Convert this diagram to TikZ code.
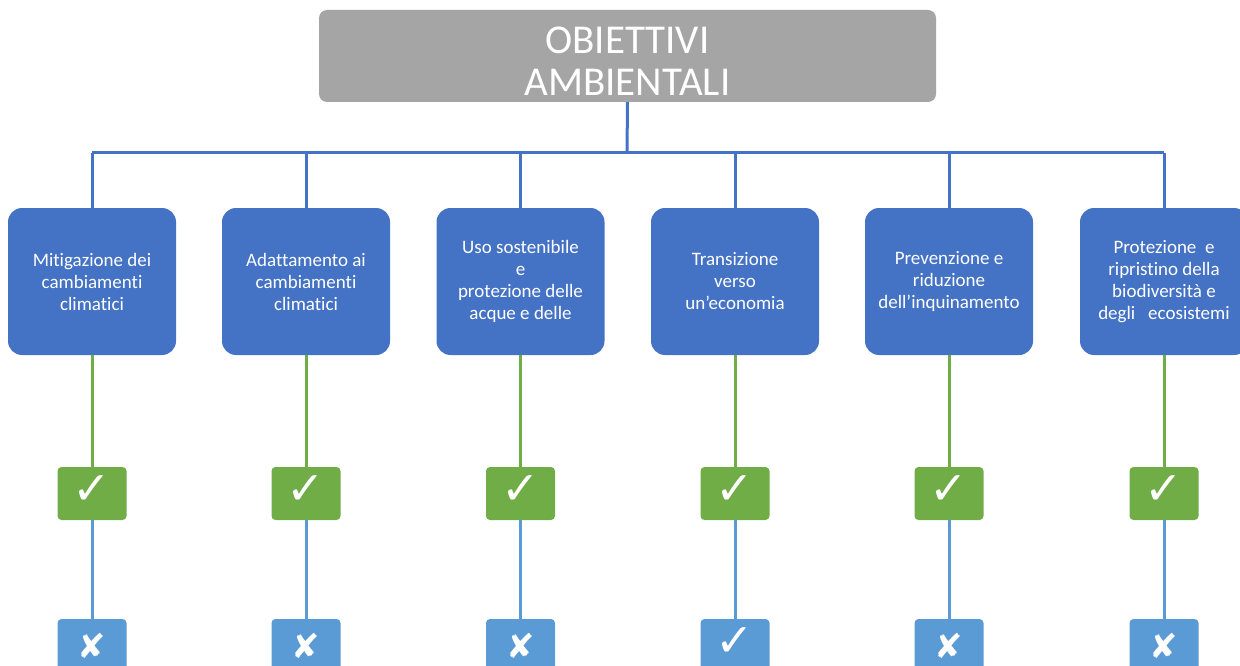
\documentclass[tikz,border=0pt]{standalone}
\usepackage{fontspec}
\setmainfont[Ligatures={NoCommon}]{Carlito}
\newfontfamily\symfont{DejaVu Sans}
\definecolor{topgray}{HTML}{A5A5A5}
\definecolor{objblue}{HTML}{4472C4}
\definecolor{okgreen}{HTML}{70AD47}
\definecolor{lightblue}{HTML}{5B9BD5}
\tikzset{
  topbox/.style={fill=topgray, rounded corners=8pt, minimum width=617pt, minimum height=92pt,
    inner sep=0pt},
  toptext/.style={text=white, align=center, inner sep=0pt, font=\fontsize{41}{42}\selectfont},
  objbox/.style={fill=objblue, rounded corners=14pt, minimum width=168pt, minimum height=147pt,
    text=white, align=center, inner sep=0pt, font=\fontsize{19}{22}\selectfont},
  greenbox/.style={fill=okgreen, rounded corners=4pt, minimum width=69pt, minimum height=53pt,
    text=white, inner sep=0pt},
  lbbox/.style={fill=lightblue, rounded corners=4pt, minimum width=69pt, minimum height=53pt,
    text=white, inner sep=0pt},
  bluelink/.style={draw=objblue, line width=3pt},
  greenlink/.style={draw=okgreen, line width=3pt},
  lblink/.style={draw=lightblue, line width=3pt},
}
\newcommand{\ckmark}{\raisebox{6pt}{\symfont\fontsize{46}{46}\selectfont ✓}}
\newcommand{\xmark}{\symfont\fontsize{34}{34}\selectfont ✘}
\begin{document}
\begin{tikzpicture}[x=1pt,y=-1pt]
\useasboundingbox (0,0) rectangle (1240,666);
\clip (0,0) rectangle (1240,666);
\node[topbox] (top) at (627.5,56) {};
\node[toptext] (title) at (627.5,61) {OBIETTIVI\\AMBIENTALI};
\coordinate (bar) at (627,153);

\node[objbox] (o1) at (92,281.5) {Mitigazione dei\\cambiamenti\\climatici};
\node[objbox] (o2) at (306,281.5) {Adattamento ai\\cambiamenti\\climatici};
\node[objbox] (o3) at (520.5,281.5) {Uso sostenibile\\e\\protezione delle\\acque e delle};
\node[objbox] (o4) at (735,281.5) {Transizione\\verso\\un’economia};
\node[objbox] (o5) at (949,281.5) {Prevenzione e\\riduzione\\dell’inquinamento};
\node[objbox] (o6) at (1164,281.5) {Protezione\ \ e\\ripristino della\\biodiversità e\\degli\ \ \ ecosistemi};

\foreach \i/\x in {1/92,2/306,3/520.5,4/735,5/949,6/1164}{
  \node[greenbox] (g\i) at (\x,493.5) {\ckmark};
}
\node[lbbox] (b1) at (92,645.5) {\xmark};
\node[lbbox] (b2) at (306,645.5) {\xmark};
\node[lbbox] (b3) at (520.5,645.5) {\xmark};
\node[lbbox] (b4) at (735,645.5) {\raisebox{-4pt}{\ckmark}};
\node[lbbox] (b5) at (949,645.5) {\xmark};
\node[lbbox] (b6) at (1164,645.5) {\xmark};

\draw[bluelink] (top.south) -- (bar);
\draw[bluelink] (o1.north |- bar) -- (o6.north |- bar);
\foreach \i in {1,...,6}{
  \draw[bluelink] (o\i.north) -- (o\i.north |- bar);
  \draw[greenlink] (o\i.south) -- (g\i.north);
  \draw[lblink] (g\i.south) -- (b\i.north);
}
\end{tikzpicture}
\end{document}
